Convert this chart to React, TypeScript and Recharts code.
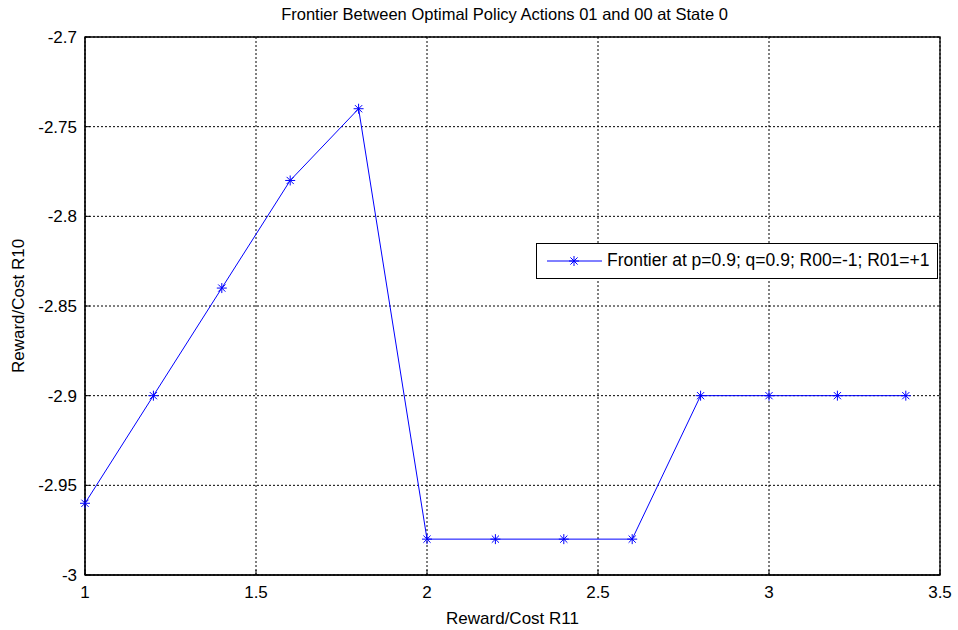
import { LineChart, Line, XAxis, YAxis, CartesianGrid, ReferenceArea } from 'recharts';

const rewardR11 = [1, 1.2, 1.4, 1.6, 1.8, 2, 2.2, 2.4, 2.6, 2.8, 3, 3.2, 3.4];
const rewardR10 = [-2.96, -2.9, -2.84, -2.78, -2.74, -2.98, -2.98, -2.98, -2.98, -2.9, -2.9, -2.9, -2.9];
const xTicks = [1, 1.5, 2, 2.5, 3, 3.5];
const yTicks = [-3, -2.95, -2.9, -2.85, -2.8, -2.75, -2.7];
const seriesName = 'Frontier at p=0.9; q=0.9; R00=-1; R01=+1';

const data = rewardR11.map((x, i) => ({ x, y: rewardR10[i] }));

const BLUE = '#0000ff';
const FONT = '"Liberation Sans", Arial, sans-serif';

const Star = (props: any) => {
  const { cx, cy } = props;
  if (cx == null || cy == null) return null;
  const r = 5;
  const d = r * 0.72;
  return (
    <g stroke={BLUE} strokeWidth={1}>
      <line x1={cx - r} y1={cy} x2={cx + r} y2={cy} />
      <line x1={cx} y1={cy - r} x2={cx} y2={cy + r} />
      <line x1={cx - d} y1={cy - d} x2={cx + d} y2={cy + d} />
      <line x1={cx - d} y1={cy + d} x2={cx + d} y2={cy - d} />
    </g>
  );
};

const LegendBox = () => (
  <div
    style={{
      position: 'absolute',
      left: 536,
      top: 243,
      width: 400,
      height: 34,
      border: '1px solid #000',
      background: '#fff',
      fontFamily: FONT,
      fontSize: 17.5,
      color: '#000',
    }}
  >
    <svg width={60} height={20} style={{ position: 'absolute', left: 10, top: 7 }}>
      <line x1={0} y1={10} x2={55} y2={10} stroke={BLUE} strokeWidth={1} />
      <Star cx={27} cy={10} />
    </svg>
    <span style={{ position: 'absolute', left: 70, top: 6, whiteSpace: 'nowrap' }}>{seriesName}</span>
  </div>
);

const tickStyle = { fill: '#000', fontSize: 17, fontFamily: FONT };
const labelStyle = { fill: '#000', fontSize: 17, fontFamily: FONT };

export default function App() {
  return (
    <div style={{ position: 'absolute', left: 0, top: 0, width: 958, height: 630, background: '#fff' }}>
      <div
        style={{
          position: 'absolute',
          left: 77,
          width: 855,
          top: 5,
          textAlign: 'center',
          fontFamily: FONT,
          fontSize: 16.5,
          color: '#000',
          whiteSpace: 'nowrap',
        }}
      >
        Frontier Between Optimal Policy Actions 01 and 00 at State 0
      </div>
      <LineChart
        width={958}
        height={630}
        data={data}
        margin={{ top: 37, right: 18, bottom: 0, left: 0 }}
      >
        <CartesianGrid stroke="#000" strokeDasharray="2 2" strokeWidth={1} />
        <XAxis
          dataKey="x"
          type="number"
          domain={[1, 3.5]}
          ticks={xTicks}
          height={55}
          stroke="#000"
          tickSize={-5}
          tickMargin={16}
          tick={tickStyle}
          label={{ value: 'Reward/Cost R11', position: 'insideBottom', offset: 6, style: labelStyle }}
        />
        <YAxis
          type="number"
          domain={[-3, -2.7]}
          ticks={yTicks}
          width={85}
          stroke="#000"
          tickSize={-5}
          tickMargin={13}
          tick={tickStyle}
          label={{ value: 'Reward/Cost R10', angle: -90, position: 'insideLeft', offset: 18, style: { ...labelStyle, textAnchor: 'middle' } }}
        />
        <ReferenceArea x1={1} x2={3.5} y1={-3} y2={-2.7} fill="none" stroke="#000" strokeWidth={1.3} />
        <Line
          dataKey="y"
          name={seriesName}
          stroke={BLUE}
          strokeWidth={1}
          dot={<Star />}
          activeDot={false}
          isAnimationActive={false}
        />
      </LineChart>
      <LegendBox />
    </div>
  );
}
